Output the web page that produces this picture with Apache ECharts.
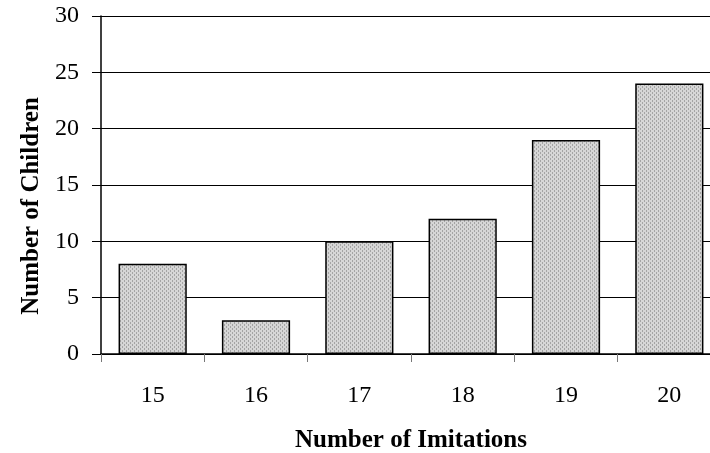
<!DOCTYPE html>
<html>
<head>
<meta charset="utf-8">
<script src="https://cdn.jsdelivr.net/npm/echarts@6/dist/echarts.min.js"></script>
<style>
  html, body { margin: 0; padding: 0; background: #fff; }
  #chart { width: 710px; height: 453px; }
</style>
</head>
<body>
<div id="chart"></div>
<script>
const imitations = ['15', '16', '17', '18', '19', '20'];
const children = [8, 3, 10, 12, 19, 24];

// fine grey hatch like the original bar fill
function makeHatch() {
  const c = document.createElement('canvas');
  c.width = 4;
  c.height = 4;
  const ctx = c.getContext('2d');
  ctx.fillStyle = '#d6d6d6';
  ctx.fillRect(0, 0, 4, 4);
  ctx.fillStyle = '#a4a4a4';
  ctx.fillRect(0, 0, 1, 2);
  ctx.fillRect(2, 2, 1, 2);
  return c;
}

const font = 'Liberation Serif, Times New Roman, serif';
const chart = echarts.init(document.getElementById('chart'));
chart.setOption({
  animation: false,
  backgroundColor: '#fff',
  grid: { left: 101, top: 16, width: 620, height: 338, outerBoundsMode: 'none', containLabel: false },
  xAxis: {
    type: 'category',
    data: imitations,
    name: 'Number of Imitations',
    nameLocation: 'middle',
    nameGap: 74,
    nameTextStyle: { fontFamily: font, fontSize: 25, fontWeight: 'bold', color: '#000' },
    axisLine: { lineStyle: { color: '#000', width: 1.5 } },
    axisTick: { show: true, length: 8, lineStyle: { color: '#777' } },
    axisLabel: { fontFamily: font, fontSize: 24, color: '#000', margin: 30 }
  },
  yAxis: {
    type: 'value',
    min: 0,
    max: 30,
    interval: 5,
    name: 'Number of Children',
    nameLocation: 'middle',
    nameGap: 56,
    nameTextStyle: { fontFamily: font, fontSize: 25, fontWeight: 'bold', color: '#000', padding: [0, 42, 0, 0] },
    axisLine: { show: true, lineStyle: { color: '#000', width: 1.5 } },
    axisTick: { show: true, length: 9, lineStyle: { color: '#000' } },
    axisLabel: { fontFamily: font, fontSize: 24, color: '#000', margin: 22 },
    splitLine: { lineStyle: { color: '#000', width: 1 } }
  },
  series: [{
    type: 'bar',
    data: children,
    barWidth: '66%',
    itemStyle: {
      color: { image: makeHatch(), repeat: 'repeat' },
      borderColor: '#000',
      borderWidth: 1.5
    }
  }]
});
</script>
</body>
</html>
